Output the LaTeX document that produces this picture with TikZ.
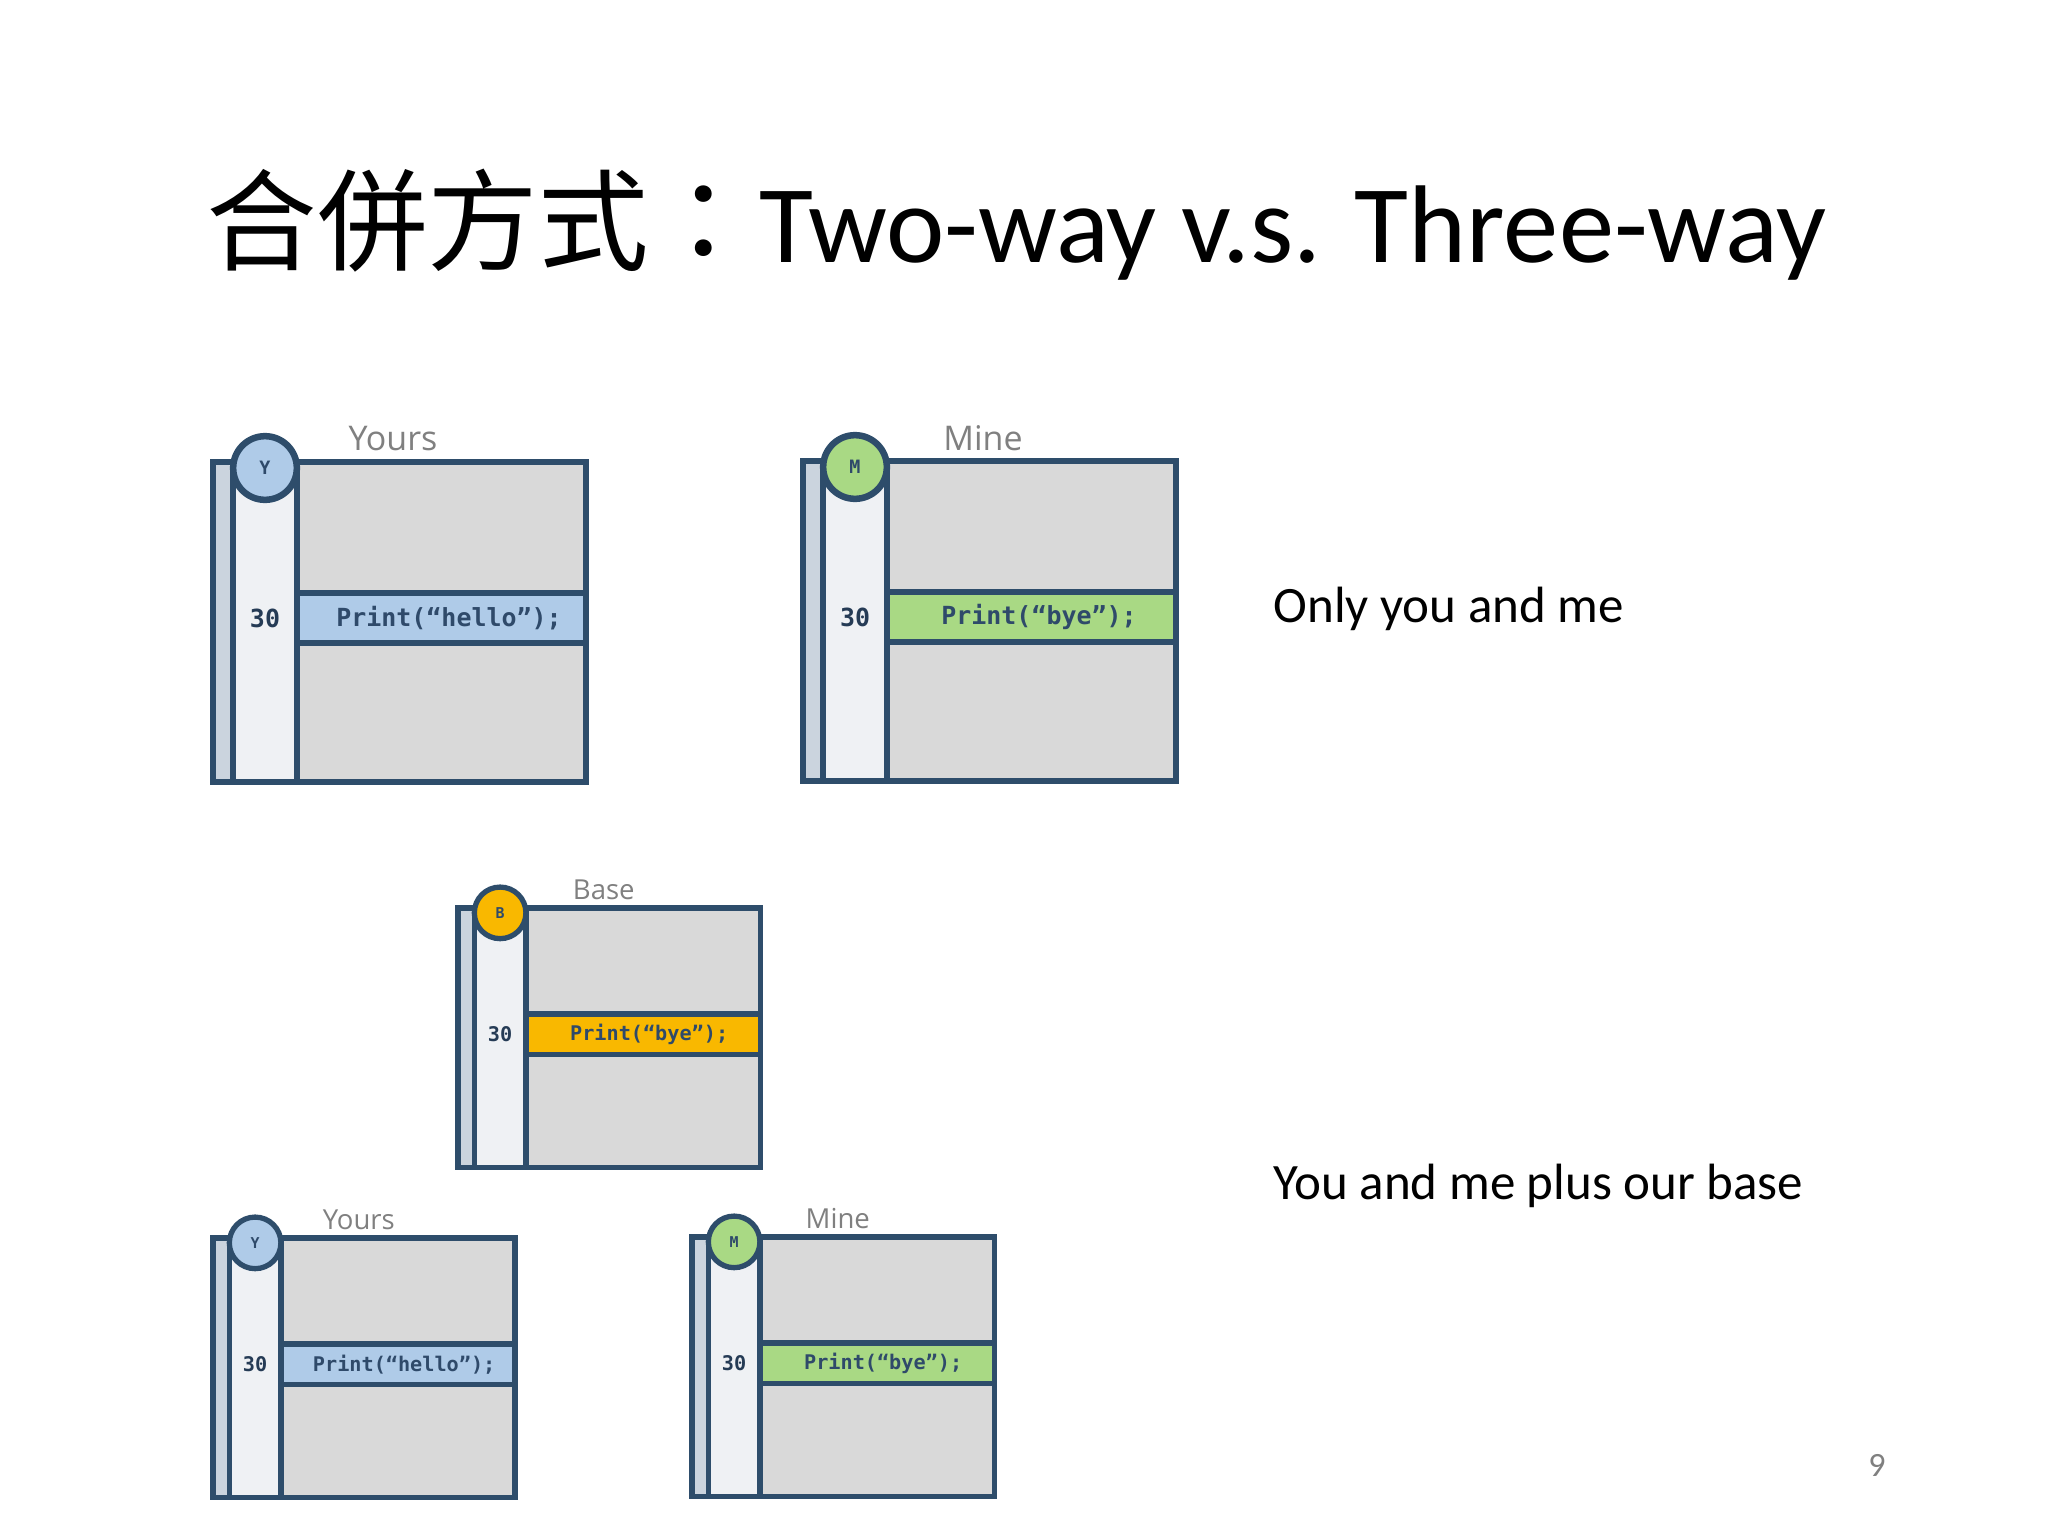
\documentclass[tikz,border=0pt]{standalone}
\usepackage{fontspec}
\setmainfont{Carlito}
\newfontfamily\cjkfont{Noto Sans CJK TC}
\newfontfamily\labelfont{Open Sans}
\newfontfamily\codefont{DejaVu Sans Mono}
\definecolor{frameblue}{HTML}{2E4D6B}
\definecolor{sheetgrey}{HTML}{D9D9D9}
\definecolor{stripgrey}{HTML}{CBD4DE}
\definecolor{columnwhite}{HTML}{EFF1F4}
\definecolor{bandblue}{HTML}{AFCBE8}
\definecolor{bandgreen}{HTML}{A9D984}
\definecolor{bandyellow}{HTML}{F9B800}
\definecolor{codeblue}{HTML}{2F4A6A}
\definecolor{labelgrey}{HTML}{808080}
\tikzset{
  panelline/.style={draw=frameblue, line cap=rect},
  tagdot/.style={circle, draw=frameblue, minimum size=0.79cm, inner sep=0pt, text=codeblue, font=\codefont\bfseries\fontsize{6.5}{8}\selectfont},
  paneltitle/.style={text=labelgrey, font=\labelfont\fontsize{12}{14}\selectfont},
  linenum/.style={text=codeblue!80!black, font=\codefont\bfseries\fontsize{8.8}{10}\selectfont},
  codeline/.style={text=codeblue, font=\codefont\bfseries\fontsize{8.8}{10}\selectfont},
  slidetext/.style={anchor=base west, font=\fontsize{18}{22}\selectfont}
}
% one file view: #1 name, #2 top left, #3 scale, #4 tag, #5 colour, #6 title, #7 code
\newcommand\mergepanel[7]{%
  \begin{scope}[shift={#2}, scale=#3, transform shape, line width=2.3pt*#3]
    \fill[sheetgrey] (84,0) rectangle (373,320);
    \fill[stripgrey] (0,0) rectangle (20,320);
    \fill[columnwhite] (20,0) rectangle (84,320);
    \fill[#5] (84,131) rectangle (373,181);
    \draw[panelline] (0,0) rectangle (373,320);
    \draw[panelline] (20,0) -- (20,320) (84,0) -- (84,320);
    \draw[panelline] (84,131) -- (373,131) (84,181) -- (373,181);
    \node[tagdot, fill=#5] (#1-tag) at (52,6) {#4};
    \node[paneltitle] (#1-title) at (180,-23) {#6};
    \node[linenum] (#1-num) at (52,156) {30};
    \node[codeline] (#1-code) at (236,156) {#7};
  \end{scope}}
\begin{document}
\begin{tikzpicture}[x=0.0124cm, y=-0.0124cm]
  \fill[white] (0,0) rectangle (2048,1536);
  \useasboundingbox (0,0) rectangle (2048,1536);
  % title
  \node[anchor=base west, inner sep=0pt, font=\fontsize{39}{47}\selectfont] (title) at (206,262)
    {{\cjkfont 合併方式：}Two-way v.s. Three-way};
  % two-way
  \mergepanel{yours}{(213,462)}{1}{Y}{bandblue}{Yours}{Print(“hello”);}
  \mergepanel{mine}{(803,461)}{1}{M}{bandgreen}{Mine}{Print(“bye”);}
  \node[slidetext, inner sep=0pt] (twoway) at (1273,622) {Only you and me};
  % three-way
  \mergepanel{base}{(458,908)}{0.81}{B}{bandyellow}{Base}{Print(“bye”);}
  \mergepanel{yours3}{(213,1238)}{0.81}{Y}{bandblue}{Yours}{Print(“hello”);}
  \mergepanel{mine3}{(692,1237)}{0.81}{M}{bandgreen}{Mine}{Print(“bye”);}
  \node[slidetext, inner sep=0pt] (threeway) at (1273,1199) {You and me plus our base};
  \node[text=labelgrey, font=\fontsize{12}{14}\selectfont] (pageno) at (1877,1465) {9};
\end{tikzpicture}
\end{document}
